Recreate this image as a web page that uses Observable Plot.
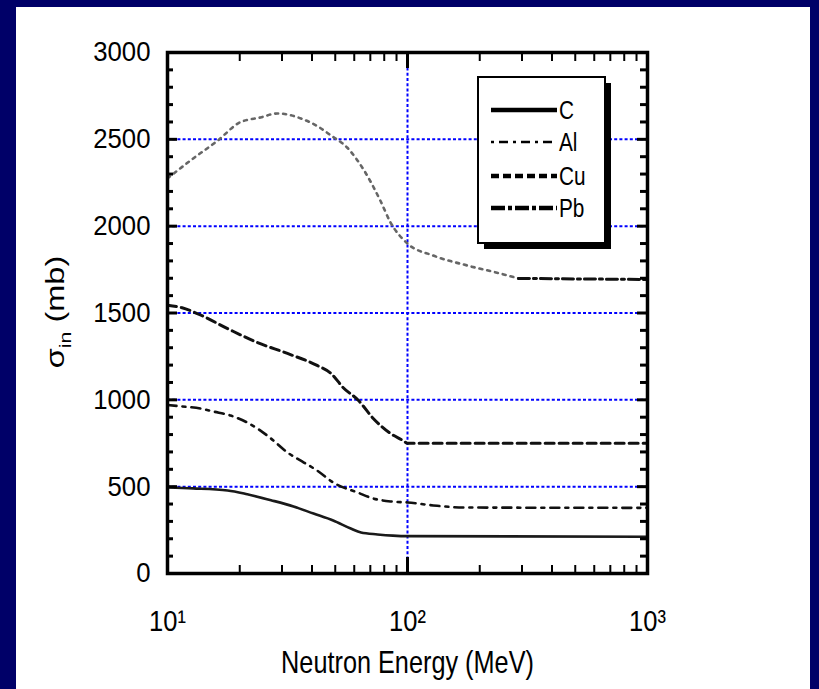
<!DOCTYPE html>
<html><head><meta charset="utf-8">
<script src="https://cdn.jsdelivr.net/npm/d3@7"></script>
<script src="https://cdn.jsdelivr.net/npm/@observablehq/plot@0.6"></script>
<style>
html,body{margin:0;padding:0;background:#000068;width:819px;height:689px;overflow:hidden}
#panel{position:absolute;left:16px;top:7px;width:794px;height:682px;background:#fff}
#chart{position:absolute;left:0;top:0}
</style></head><body><div id="panel"></div><div id="chart"></div>
<script>
// ---- data ----
const seriesNames = ["C", "Al", "Cu", "Pb"];
const energyC  = [10, 12.8, 17.8, 21.5, 27, 33.5, 40.6, 49, 58, 64, 75, 87, 100, 1000];
const sigmaC   = [495, 490, 478, 456, 422, 386, 345, 305, 259, 236, 225, 218, 215, 212];
const energyAl = [10, 11.5, 13.7, 15.5, 18.3, 21.5, 24.4, 27, 31.6, 37, 42, 49, 62, 72, 85, 100, 128, 171, 1000];
const sigmaAl  = [970, 962, 950, 933, 910, 869, 823, 777, 697, 639, 593, 524, 466, 432, 415, 409, 392, 380, 378];
const energyCu = [10, 11.5, 13.3, 17.8, 23.7, 31.6, 42, 48, 54, 62.5, 72, 85, 96, 100, 1000];
const sigmaCu  = [1545, 1530, 1497, 1410, 1330, 1267, 1198, 1152, 1070, 996, 893, 806, 765, 750, 750];
const energyPb = [10, 12.8, 16.2, 20, 24.4, 28.7, 36, 43, 48, 56, 66, 77, 85, 100, 128, 178, 244, 290, 1000];
const sigmaPb  = [2275, 2390, 2493, 2597, 2626, 2649, 2620, 2568, 2522, 2453, 2320, 2148, 2021, 1900, 1831, 1773, 1727, 1699, 1693];
const xTickValues = [10, 100, 1000];
const xTickLabels = {10: "10\u00B9", 100: "10\u00B2", 1000: "10\u00B3"};
const yTickValues = [0, 500, 1000, 1500, 2000, 2500, 3000];
const gridY = [500, 1000, 1500, 2000, 2500];
const gridX = [100];
const xMinor = [20, 30, 40, 50, 60, 70, 80, 90, 200, 300, 400, 500, 600, 700, 800, 900];
const yMinor = d3.range(100, 3000, 100).filter(v => v % 500 !== 0);
const yMajor = [500, 1000, 1500, 2000, 2500];
const xLabel = "Neutron Energy (MeV)";

const rows = (E, S) => E.map((e, i) => ({e, s: S[i]}));
const dC = rows(energyC, sigmaC), dAl = rows(energyAl, sigmaAl), dCu = rows(energyCu, sigmaCu), dPb = rows(energyPb, sigmaPb);
const dPbDot = dPb.filter(d => d.e <= 290), dPbDash = dPb.filter(d => d.e >= 290);

const W = 819, H = 689, mL = 167, mR = 172, mT = 52, mB = 116;
const pw = W - mL - mR, ph = H - mT - mB;
const font = "'Liberation Sans', Arial, Helvetica, sans-serif";
const blue = "#0000ff";

const plot = Plot.plot({
  width: W, height: H, marginLeft: mL, marginRight: mR, marginTop: mT, marginBottom: mB,
  style: {background: "transparent", fontFamily: font, color: "#000", overflow: "visible"},
  x: {type: "log", domain: [10, 1000], axis: null},
  y: {domain: [0, 3000], axis: null},
  marks: [
    Plot.ruleY(gridY, {stroke: blue, strokeWidth: 2, strokeDasharray: "3,2.2"}),
    Plot.ruleX(gridX, {stroke: blue, strokeWidth: 2, strokeDasharray: "3,2.2"}),
    Plot.line(dC, {x: "e", y: "s", stroke: "#1a1a1a", strokeWidth: 2.6, curve: "monotone-x"}),
    Plot.line(dAl, {x: "e", y: "s", stroke: "#111", strokeWidth: 2.6, strokeDasharray: "9,6,3,6", curve: "monotone-x"}),
    Plot.line(dCu, {x: "e", y: "s", stroke: "#111", strokeWidth: 3, strokeDasharray: "9,5", curve: "monotone-x"}),
    Plot.line(dPbDot, {x: "e", y: "s", stroke: "#666", strokeWidth: 2.6, strokeDasharray: "3,5", curve: "monotone-x"}),
    Plot.line(dPbDash, {x: "e", y: "s", stroke: "#111", strokeWidth: 3, strokeDasharray: "11,4,3,4", curve: "monotone-x"}),
    // inward ticks
    Plot.tickY(yMinor, {y: d => d, insetRight: pw - 6, stroke: "#000", strokeWidth: 3}),
    Plot.tickY(yMajor, {y: d => d, insetRight: pw - 10, stroke: "#000", strokeWidth: 3}),
    Plot.tickY(yMinor, {y: d => d, insetLeft: pw - 7, stroke: "#000", strokeWidth: 3}),
    Plot.tickY(yMajor, {y: d => d, insetLeft: pw - 10, stroke: "#000", strokeWidth: 3}),
    Plot.tickX(xMinor, {x: d => d, insetTop: ph - 8, stroke: "#000", strokeWidth: 2}),
    Plot.tickX(gridX, {x: d => d, insetTop: ph - 16, stroke: "#000", strokeWidth: 3}),
    Plot.tickX(xMinor, {x: d => d, insetBottom: ph - 9, stroke: "#000", strokeWidth: 2}),
    Plot.tickX(gridX, {x: d => d, insetBottom: ph - 16, stroke: "#000", strokeWidth: 3}),
    Plot.frame({stroke: "#000", strokeWidth: 3.5}),
    Plot.axisY(yTickValues, {anchor: "left", tickSize: 0, tickPadding: 17, fontSize: 28, label: null, tickFormat: d => String(d)}),
    Plot.text(xTickValues, {x: d => d, text: d => xTickLabels[d], frameAnchor: "bottom", dy: 36, lineAnchor: "top", fontSize: 30}),
    Plot.text([xLabel], {text: d => d, frameAnchor: "bottom", dy: 77, lineAnchor: "top", fontSize: 32})
  ]
});
document.getElementById("chart").appendChild(plot);
const svg = d3.select(plot);

// horizontally condense text about its anchor point (the scanned original is narrow)
function condense(node, sx) {
  const t = d3.select(node);
  const x = +t.attr("x") || 0, y = +t.attr("y") || 0;
  const prev = t.attr("transform") || "";
  t.attr("transform", `${prev} translate(${x},${y}) scale(${sx},1) translate(${-x},${-y})`);
}
const supLabels = Object.values(xTickLabels);
svg.selectAll("text").each(function() {
  const s = this.textContent;
  if (s === xLabel) condense(this, 0.79);
  else if (supLabels.includes(s)) condense(this, 0.85);
  else if (/^\d+$/.test(s)) condense(this, 0.92);
});

// y-axis label with subscript, stretched along its reading direction
const yl = svg.append("text")
  .attr("transform", "translate(64,312) scale(1,1.25) rotate(-90)")
  .attr("text-anchor", "middle")
  .attr("font-family", font)
  .attr("font-size", 26)
  .attr("fill", "#000");
yl.append("tspan").text("\u03C3");
yl.append("tspan").attr("font-size", 17).attr("dy", 7).text("in");
yl.append("tspan").attr("dy", -7).text(" (mb)");

// legend
const legendStyle = {
  C:  {w: 4.5, dash: null},
  Al: {w: 2.5, dash: "3,5,9,5"},
  Cu: {w: 4.5, dash: "8,4"},
  Pb: {w: 4.5, dash: "14,3,4,3"}
};
const lg = svg.append("g");
lg.append("rect").attr("x", 484).attr("y", 83).attr("width", 127).attr("height", 166).attr("fill", "#000");
lg.append("rect").attr("x", 478).attr("y", 77).attr("width", 127).attr("height", 166)
  .attr("fill", "#fff").attr("stroke", "#000").attr("stroke-width", 2);
const rowY = [110, 142, 176, 208];
seriesNames.forEach((name, i) => {
  const st = legendStyle[name];
  lg.append("line").attr("x1", 491).attr("x2", 557).attr("y1", rowY[i]).attr("y2", rowY[i])
    .attr("stroke", "#000").attr("stroke-width", st.w).attr("stroke-dasharray", st.dash);
  const t = lg.append("text").attr("x", 559).attr("y", rowY[i]).attr("dy", "0.36em")
    .attr("text-anchor", "start").attr("font-family", font).attr("font-size", 26).attr("fill", "#000").text(name);
  condense(t.node(), 0.8);
});
</script></body></html>
